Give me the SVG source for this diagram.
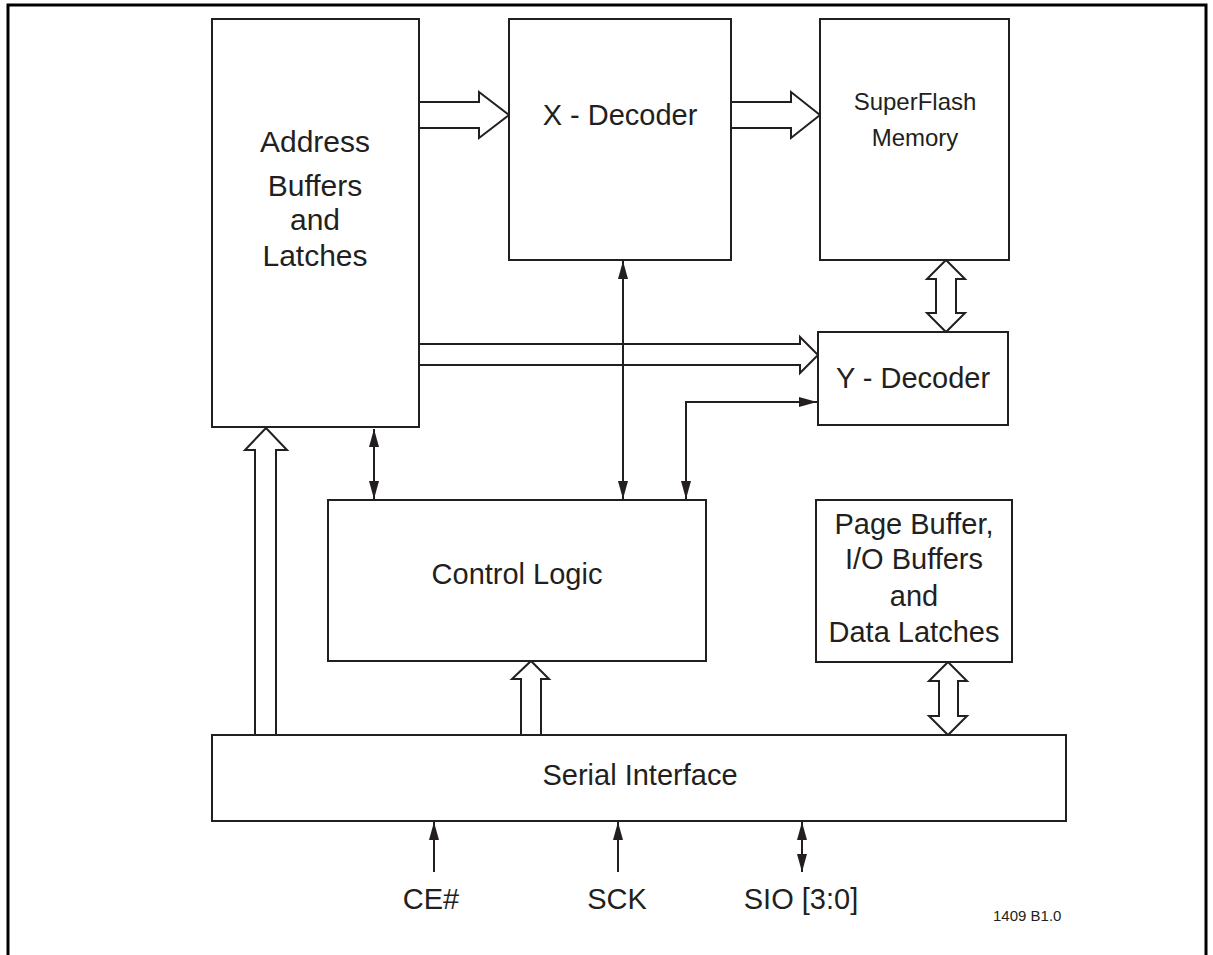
<svg xmlns="http://www.w3.org/2000/svg" width="1213" height="955" viewBox="0 0 1213 955">
<style>
.box{fill:#fff;stroke:#231f20;stroke-width:2}
.ln{fill:none;stroke:#231f20;stroke-width:2}
.fat{fill:#fff;stroke:#231f20;stroke-width:2;stroke-linejoin:miter}
.t{font-family:"Liberation Sans",Arial,sans-serif;font-size:29px;fill:#231f20;text-anchor:middle}
.s{font-size:24px}
.a{font-size:30px}
.tiny{font-family:"Liberation Sans",Arial,sans-serif;font-size:15px;fill:#231f20}
</style>
<defs>
<marker id="ah" viewBox="0 0 18 10" refX="18" refY="5" markerWidth="18" markerHeight="10" markerUnits="userSpaceOnUse" orient="auto-start-reverse">
<path d="M0,0 L18,5 L0,10 Z" fill="#231f20"/>
</marker>
</defs>
<rect x="0" y="0" width="1213" height="955" fill="#fff"/>
<path d="M8,960 V5 H1206 V960" fill="none" stroke="#000" stroke-width="3"/>

<g id="connectors">
<path class="fat" d="M419,102 H479 V92 L509,115 L479,138 V128 H419"/>
<path class="fat" d="M731,102 H791 V92 L820,115 L791,138 V128 H731"/>
<path class="fat" d="M419,344 H800 V337 L818,355 L800,373 V365 H419"/>
<path class="fat" d="M255,735 V450 H245 L266,428 L287,450 H276 V735"/>
<path class="fat" d="M521,735 V679 H512 L531,661 L549,679 H541 V735"/>
<path class="fat" d="M946,260 L965,279 H956 V313 H965 L946,332 L927,313 H936 V279 H927 Z"/>
<path class="fat" d="M948,662 L967,681 H958 V716 H967 L948,735 L929,716 H939 V681 H929 Z"/>
<line class="ln" x1="374" y1="429" x2="374" y2="499" marker-start="url(#ah)" marker-end="url(#ah)"/>
<line class="ln" x1="623" y1="261" x2="623" y2="499" marker-start="url(#ah)" marker-end="url(#ah)"/>
<path class="ln" d="M686,499 V402 H817" marker-start="url(#ah)" marker-end="url(#ah)"/>
<line class="ln" x1="434" y1="872" x2="434" y2="822" marker-end="url(#ah)"/>
<line class="ln" x1="618" y1="872" x2="618" y2="822" marker-end="url(#ah)"/>
<line class="ln" x1="802" y1="872" x2="802" y2="822" marker-start="url(#ah)" marker-end="url(#ah)"/>
</g>

<g id="address">
<rect class="box" x="212" y="19" width="207" height="408"/>
<text class="t a" x="315" y="152">Address</text>
<text class="t a" x="315" y="196">Buffers</text>
<text class="t a" x="315" y="230">and</text>
<text class="t a" x="315" y="266">Latches</text>
</g>
<g id="xdecoder">
<rect class="box" x="509" y="19" width="222" height="241"/>
<text class="t" x="620" y="125">X - Decoder</text>
</g>
<g id="superflash">
<rect class="box" x="820" y="19" width="189" height="241"/>
<text class="t s" x="915" y="110">SuperFlash</text>
<text class="t s" x="915" y="146">Memory</text>
</g>
<g id="ydecoder">
<rect class="box" x="818" y="332" width="190" height="93"/>
<text class="t" x="913" y="388">Y - Decoder</text>
</g>
<g id="control">
<rect class="box" x="328" y="500" width="378" height="161"/>
<text class="t" x="517" y="584">Control Logic</text>
</g>
<g id="pagebuffer">
<rect class="box" x="816" y="500" width="196" height="162"/>
<text class="t" x="914" y="534">Page Buffer,</text>
<text class="t" x="914" y="569">I/O Buffers</text>
<text class="t" x="914" y="606">and</text>
<text class="t" x="914" y="642">Data Latches</text>
</g>
<g id="serial">
<rect class="box" x="212" y="735" width="854" height="86"/>
<text class="t" x="640" y="785">Serial Interface</text>
</g>
<g id="labels">
<text class="t" x="431" y="909">CE#</text>
<text class="t" x="617" y="909">SCK</text>
<text class="t" x="801" y="909">SIO [3:0]</text>
<text class="tiny" x="993" y="921">1409 B1.0</text>
</g>
</svg>
